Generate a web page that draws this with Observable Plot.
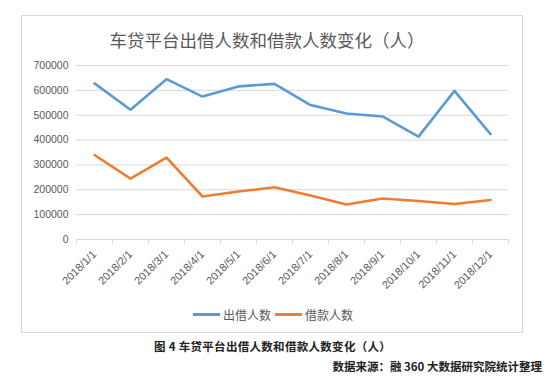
<!DOCTYPE html>
<html><head><meta charset="utf-8">
<script src="https://cdn.jsdelivr.net/npm/d3@7"></script>
<script src="https://cdn.jsdelivr.net/npm/@observablehq/plot@0.6"></script>
<style>
body{margin:0;background:#fff;font-family:"Liberation Sans","Noto Sans CJK SC",sans-serif;}
#wrap{position:relative;width:550px;height:379px;overflow:hidden;}
#box{position:absolute;left:21px;top:15px;width:502px;height:318px;border:1px solid #d9d9d9;box-sizing:border-box;}
#chart{position:absolute;left:0;top:0;}
.t{position:absolute;white-space:nowrap;}
#title{left:0;width:534px;top:27px;text-align:center;font-size:17.5px;color:#595959;font-family:"Noto Sans CJK SC",sans-serif;}
#legend{top:306px;left:193px;font-size:12px;color:#595959;display:flex;align-items:center;font-family:"Noto Sans CJK SC",sans-serif;}
#legend .sw{display:inline-block;width:27px;height:3px;margin-right:3px;}
#cap{top:338px;left:154px;font-size:11.5px;font-weight:bold;color:#222;letter-spacing:0.3px;font-family:"Noto Sans CJK SC",sans-serif;}
#src{top:358px;right:8px;font-size:11.5px;font-weight:bold;color:#222;font-family:"Noto Sans CJK SC",sans-serif;}
</style></head>
<body>
<div id="wrap">
  <div id="box"></div>
  <div id="chart"></div>
  <div class="t" id="title">车贷平台出借人数和借款人数变化（人）</div>
  <div class="t" id="legend"></div>
  <div class="t" id="cap">图 4 车贷平台出借人数和借款人数变化（人）</div>
  <div class="t" id="src">数据来源：融 360 大数据研究院统计整理</div>
</div>
<script>
const categories = ["2018/1/1","2018/2/1","2018/3/1","2018/4/1","2018/5/1","2018/6/1","2018/7/1","2018/8/1","2018/9/1","2018/10/1","2018/11/1","2018/12/1"];
const lenders = [628000,522000,645000,575000,616000,626000,541000,507000,495000,414000,598000,424000];
const borrowers = [340000,245000,329000,173000,193000,210000,177000,141000,165000,155000,143000,159000];
const seriesNames = ["出借人数","借款人数"];
const seriesColors = ["#5b9bd5","#ed7d31"];
const yTicks = [0,100000,200000,300000,400000,500000,600000,700000];

const rows = [];
categories.forEach((c,i)=>{
  rows.push({i, cat:c, series:seriesNames[0], v:lenders[i]});
  rows.push({i, cat:c, series:seriesNames[1], v:borrowers[i]});
});

const chart = Plot.plot({
  width:550, height:300,
  marginLeft:76, marginRight:42, marginTop:65, marginBottom:61,
  style:{fontFamily:"'Liberation Sans','Noto Sans CJK SC',sans-serif", fontSize:"10.5px", color:"#595959", background:"transparent"},
  x:{domain:[0,categories.length]},
  y:{domain:[0,700000]},
  color:{domain:seriesNames, range:seriesColors},
  marks:[
    Plot.gridY(yTicks.filter(d=>d>0), {stroke:"#d9d9d9", strokeOpacity:1, strokeWidth:1}),
    Plot.ruleY([0], {stroke:"#d9d9d9", strokeWidth:1}),
    Plot.axisY({ticks:yTicks, tickSize:0, tickPadding:8, tickFormat:d3.format("d"), fill:"#595959", label:null}),
    Plot.axisX({ticks:d3.range(categories.length+1), tickSize:5, tickFormat:()=>"", stroke:"#d9d9d9", label:null}),
    Plot.axisX({ticks:categories.map((c,i)=>i+0.5), tickSize:0, tickPadding:13, tickRotate:-45, tickFormat:d=>categories[Math.floor(d)], fill:"#595959", fontSize:11, label:null}),
    Plot.line(rows, {x:d=>d.i+0.5, y:"v", z:"series", stroke:"series", strokeWidth:2.6, strokeLinejoin:"round", strokeLinecap:"round"})
  ]
});
document.getElementById("chart").appendChild(chart);

const lg = document.getElementById("legend");
seriesNames.forEach((n,k)=>{
  const sw = document.createElement("span"); sw.className="sw"; sw.style.background=seriesColors[k];
  if(k>0) sw.style.marginLeft="4px";
  const tx = document.createElement("span"); tx.textContent=n;
  lg.appendChild(sw); lg.appendChild(tx);
});
</script>
</body></html>
